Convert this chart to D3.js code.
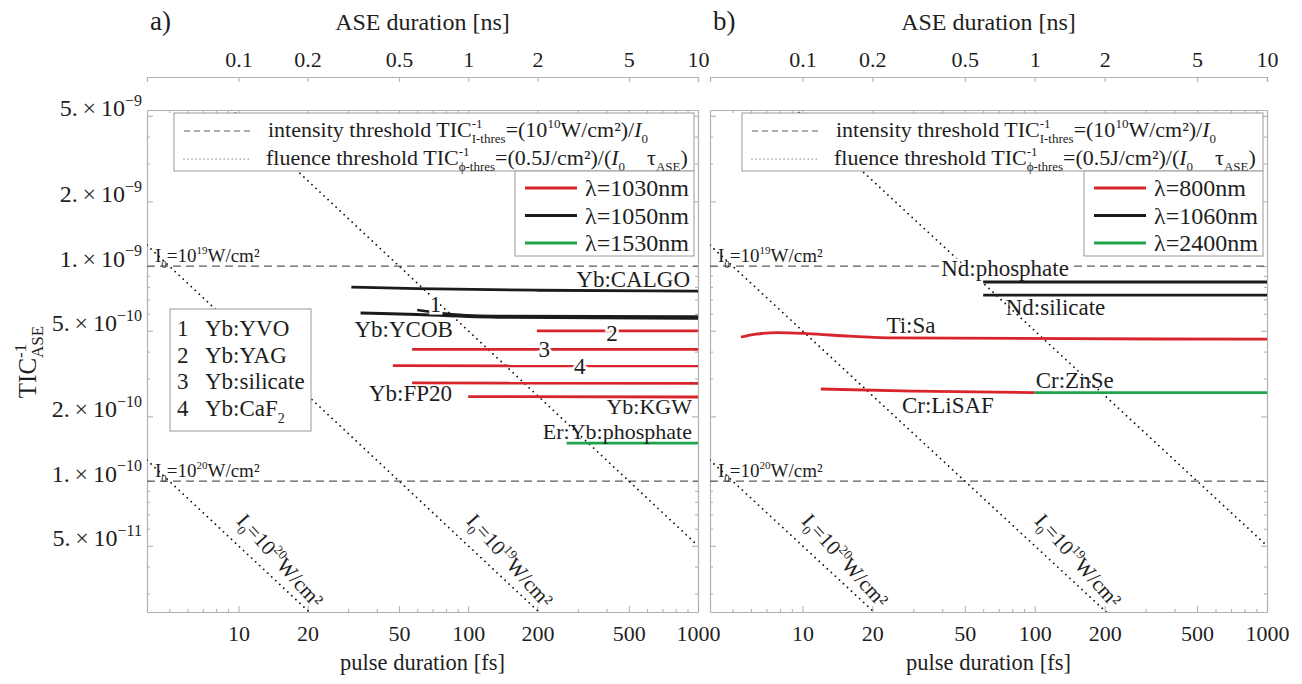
<!DOCTYPE html>
<html>
<head>
<meta charset="utf-8">
<script src="https://cdn.jsdelivr.net/npm/d3@7"></script>
<style>
  body { margin: 0; background: #fff; }
  svg { display: block; }
</style>
</head>
<body>
<svg id="chart" width="1302" height="684"></svg>
<script>
// ---------------- data ----------------
const pulseTicks = [10, 20, 50, 100, 200, 500, 1000];
const aseTicks = [0.1, 0.2, 0.5, 1, 2, 5, 10];
const ticTicks = [5e-9, 2e-9, 1e-9, 5e-10, 2e-10, 1e-10, 5e-11];
const pulseDomain = [4, 1000];       // fs
const aseDomain = [0.04, 10];        // ns
const ticDomain = [2.46e-11, 5.32e-9];

// threshold lines, [pulse fs, TIC]
const intensity19 = [[4, 1e-9], [1000, 1e-9]];
const intensity20 = [[4, 1e-10], [1000, 1e-10]];
const fluence18 = [[4, 1.25e-8], [1000, 5e-11]];
const fluence19 = [[4, 1.25e-9], [1000, 5e-12]];
const fluence20 = [[4, 1.25e-10], [1000, 5e-13]];

// panel a)
const ybCALGO = [[31, 7.98e-10], [60, 7.85e-10], [200, 7.72e-10], [1000, 7.65e-10]];
const ybYCOB = [[34, 6.05e-10], [60, 5.95e-10], [150, 5.78e-10], [1000, 5.72e-10]];
const ybYVO = [[60, 6.25e-10], [75, 6.05e-10], [130, 5.86e-10], [1000, 5.82e-10]];
const ybYAG = [[199, 5.0e-10], [1000, 5.0e-10]];
const ybSilicate = [[57, 4.1e-10], [1000, 4.1e-10]];
const ybCaF2 = [[47, 3.44e-10], [1000, 3.43e-10]];
const ybKGW = [[57, 2.86e-10], [1000, 2.85e-10]];
const ybFP20 = [[100, 2.47e-10], [1000, 2.46e-10]];
const erYbPhosphate = [[268, 1.5e-10], [1000, 1.5e-10]];

// panel b)
const ndPhosphate = [[60, 8.43e-10], [1000, 8.43e-10]];
const ndSilicate = [[60, 7.33e-10], [1000, 7.33e-10]];
const tiSa = [[5.44, 4.67e-10], [6.3, 4.82e-10], [7.8, 4.9e-10], [10.5, 4.85e-10], [16, 4.72e-10], [25, 4.63e-10], [1000, 4.57e-10]];
const crLiSAF = [[12, 2.68e-10], [30, 2.62e-10], [100, 2.58e-10]];
const crZnSe = [[100, 2.58e-10], [1000, 2.58e-10]];

// curve labels: text, pulse, TIC, anchor, size
const labelsA = [
  ["Yb:CALGO", 923, 7.98e-10, "end", 23],
  ["Yb:YCOB", 32, 4.67e-10, "start", 23],
  ["Yb:FP20", 85, 2.36e-10, "end", 23],
  ["Yb:KGW", 941, 2.05e-10, "end", 22],
  ["Er:Yb:phosphate", 941, 1.57e-10, "end", 22]
];
const numbersA = [["1", 72, 6.11e-10], ["2", 422, 4.48e-10], ["3", 214, 3.77e-10], ["4", 306, 3.15e-10]];
const labelsB = [
  ["Nd:silicate", 75, 5.92e-10, "start", 23],
  ["Ti:Sa", 23, 4.88e-10, "start", 23],
  ["Cr:ZnSe", 101, 2.71e-10, "start", 23],
  ["Cr:LiSAF", 26.8, 2.07e-10, "start", 23]
];
const haloB = [["Nd:phosphate", 74.5, 8.95e-10]];
const materialKey = ["Yb:YVO", "Yb:YAG", "Yb:silicate", "Yb:CaF"];
const lambdasA = ["λ=1030nm", "λ=1050nm", "λ=1530nm"];
const lambdasB = ["λ=800nm", "λ=1060nm", "λ=2400nm"];

// ---------------- drawing ----------------
const FONT = "'Liberation Serif', 'Times New Roman', serif";
const INK = "#1e1e1e";
const FRAME = "#b2b2b2";
const RED = "#d7252b", BLACK = "#1b1b1b", GREEN = "#1ea54b";
const colours = [RED, BLACK, GREEN];

const svg = d3.select("#chart").attr("font-family", FONT).attr("fill", INK);
const yTop = 110, yBot = 612;
const y = d3.scaleLog().domain(ticDomain).range([yBot, yTop]);

// rich text with sup / sub / stacked sub under a sup
function rich(sel, parts, size, ratio) {
  const r = ratio || 0.6;
  let cur = 0, lastW = 0;
  parts.forEach(([str, kind]) => {
    const small = kind === "sup" || kind === "sub" || kind === "stack";
    const shift = kind === "sup" ? -0.42 * size : (small ? 0.28 * size : 0);
    const ts = sel.append("tspan").text(str).attr("dy", shift - cur);
    if (small) ts.attr("font-size", Math.round(size * r));
    if (kind === "it") ts.attr("font-style", "italic");
    if (kind === "stack") ts.attr("dx", -lastW);
    cur = shift;
    lastW = ts.node().getComputedTextLength();
  });
}

function minorValues(lo, hi, majors) {
  const out = [];
  for (let e = Math.floor(Math.log10(lo)); e <= Math.ceil(Math.log10(hi)); e++) {
    for (let m = 1; m < 10; m++) {
      const v = m * Math.pow(10, e);
      if (v > lo * 1.001 && v < hi * 0.999 && !majors.some(t => Math.abs(t - v) / v < 1e-6)) out.push(v);
    }
  }
  return out;
}

function styleAxis(sel, showDomain) {
  sel.attr("font-family", FONT).attr("font-size", 22);
  sel.select(".domain").attr("stroke", showDomain ? FRAME : "none").attr("stroke-width", 1.2);
  sel.selectAll(".tick line").attr("stroke", FRAME).attr("stroke-width", 1.1);
  sel.selectAll(".tick text").attr("fill", INK);
}

function drawPanel(cfg) {
  const x = d3.scaleLog().domain(pulseDomain).range([cfg.x0, cfg.x1]);
  const xAse = d3.scaleLog().domain(aseDomain).range([cfg.x0, cfg.x1]);
  const g = svg.append("g");
  const clipId = "clip-" + cfg.id;
  g.append("clipPath").attr("id", clipId).append("rect")
    .attr("x", cfg.x0).attr("y", yTop).attr("width", cfg.x1 - cfg.x0).attr("height", yBot - yTop);

  const minorX = minorValues(pulseDomain[0], pulseDomain[1], pulseTicks);
  const minorY = minorValues(ticDomain[0], ticDomain[1], ticTicks);

  // bottom
  g.append("g").attr("transform", `translate(0,${yBot})`)
    .call(d3.axisBottom(x).tickValues(pulseTicks).tickFormat(d3.format("d")).tickSizeInner(-6).tickSizeOuter(0).tickPadding(13))
    .call(s => styleAxis(s, true));
  g.append("g").attr("transform", `translate(0,${yBot})`)
    .call(d3.axisBottom(x).tickValues(minorX).tickFormat("").tickSize(-3))
    .call(s => styleAxis(s, false));
  // top edge of frame
  g.append("g").attr("transform", `translate(0,${yTop})`)
    .call(d3.axisTop(x).tickValues(pulseTicks).tickFormat("").tickSizeInner(-6).tickSizeOuter(0))
    .call(s => styleAxis(s, true));
  g.append("g").attr("transform", `translate(0,${yTop})`)
    .call(d3.axisTop(x).tickValues(minorX).tickFormat("").tickSize(-3))
    .call(s => styleAxis(s, false));
  // left / right
  const left = g.append("g").attr("transform", `translate(${cfg.x0},0)`)
    .call(d3.axisLeft(y).tickValues(ticTicks).tickFormat("").tickSizeInner(-6).tickSizeOuter(0).tickPadding(5))
    .call(s => styleAxis(s, true));
  g.append("g").attr("transform", `translate(${cfg.x0},0)`)
    .call(d3.axisLeft(y).tickValues(minorY).tickFormat("").tickSize(-3))
    .call(s => styleAxis(s, false));
  g.append("g").attr("transform", `translate(${cfg.x1},0)`)
    .call(d3.axisRight(y).tickValues(ticTicks).tickFormat("").tickSizeInner(-6).tickSizeOuter(0))
    .call(s => styleAxis(s, true));
  g.append("g").attr("transform", `translate(${cfg.x1},0)`)
    .call(d3.axisRight(y).tickValues(minorY).tickFormat("").tickSize(-3))
    .call(s => styleAxis(s, false));

  if (cfg.yLabels) {
    left.selectAll(".tick text").each(function (d) {
      const t = d3.select(this).text(null).attr("x", -5).attr("dy", "0.31em").attr("font-size", 24);
      const e = Math.floor(Math.log10(d) + 1e-9);
      const m = Math.round(d / Math.pow(10, e));
      rich(t, [[m + ".\u2009×\u200910", "n"], ["−" + (-e), "sup"]], 24, 0.68);
    });
  }

  // separate ASE duration axis on top
  g.append("g").attr("transform", "translate(0,77)")
    .call(d3.axisTop(xAse).tickValues(aseTicks).tickFormat(d => String(d)).tickSizeInner(-5).tickSizeOuter(-5).tickPadding(10))
    .call(s => styleAxis(s, true));

  const cx = (cfg.x0 + cfg.x1) / 2;
  g.append("text").attr("x", cx).attr("y", 30).attr("text-anchor", "middle").attr("font-size", 24).text("ASE duration [ns]");
  g.append("text").attr("x", cx).attr("y", 670).attr("text-anchor", "middle").attr("font-size", 22.5).text("pulse duration [fs]");
  g.append("text").attr("x", cfg.x0 + 3).attr("y", 30).attr("font-size", 27).text(cfg.letter);

  const line = d3.line().x(d => x(d[0])).y(d => y(d[1])).curve(d3.curveMonotoneX);
  const guides = g.append("g").attr("clip-path", `url(#${clipId})`);

  [intensity19, intensity20].forEach(d => guides.append("path").attr("d", line(d))
    .attr("fill", "none").attr("stroke", "#5c5c5c").attr("stroke-width", 1.3).attr("stroke-dasharray", "8 5"));
  [fluence18, fluence19, fluence20].forEach(d => guides.append("path").attr("d", d3.line().x(p => x(p[0])).y(p => y(p[1]))(d))
    .attr("fill", "none").attr("stroke", "#111").attr("stroke-width", 1.8)
    .attr("stroke-linecap", "round").attr("stroke-dasharray", "0.01 5.5"));

  // intensity labels
  [["19", 1.04e-9], ["20", 1.05e-10]].forEach(([p, v]) => {
    const t = g.append("text").attr("x", x(4.33)).attr("y", y(v)).attr("font-size", 19);
    rich(t, [["I", "n"], ["0", "sub"], ["=10", "n"], [p, "sup"], ["W/cm²", "n"]], 19);
  });
  // fluence labels along dotted lines
  cfg.rotLabels.forEach(([p, pulse, v]) => {
    const t = g.append("text").attr("text-anchor", "middle").attr("font-size", 21)
      .attr("transform", `translate(${x(pulse)},${y(v)}) rotate(48)`);
    rich(t, [["I", "n"], ["0", "sub"], ["=10", "n"], [p, "sup"], ["W/cm²", "n"]], 21);
  });

  // labels that break the dashed line, drawn under the curves
  cfg.halo.forEach(([s, p, v]) => g.append("text").attr("x", x(p)).attr("y", y(v))
    .attr("text-anchor", "middle").attr("font-size", 23)
    .attr("stroke", "#fff").attr("stroke-width", 5).attr("paint-order", "stroke").text(s));

  // curves
  const plot = g.append("g").attr("clip-path", `url(#${clipId})`);
  cfg.curves.forEach(([d, c, w]) => plot.append("path").attr("d", line(d))
    .attr("fill", "none").attr("stroke", c).attr("stroke-width", w || 2.8));

  cfg.labels.forEach(([s, p, v, a, fs]) => g.append("text").attr("x", x(p)).attr("y", y(v))
    .attr("text-anchor", a).attr("font-size", fs).text(s));

  // legend: threshold lines
  const lx = cfg.legLeft, rx = cfg.x1 - 4;
  g.append("rect").attr("x", lx).attr("y", 113).attr("width", rx - lx).attr("height", 58)
    .attr("fill", "#fff").attr("stroke", "#9a9a9a").attr("stroke-width", 1);
  g.append("line").attr("x1", lx + 10).attr("x2", lx + 77).attr("y1", 131).attr("y2", 131)
    .attr("stroke", "#5c5c5c").attr("stroke-width", 1.2).attr("stroke-dasharray", "6 4");
  g.append("line").attr("x1", lx + 10).attr("x2", lx + 77).attr("y1", 159).attr("y2", 159)
    .attr("stroke", "#333").attr("stroke-width", 1.2).attr("stroke-linecap", "round").attr("stroke-dasharray", "0.01 4");
  rich(g.append("text").attr("x", lx + 94).attr("y", 137).attr("font-size", 22),
    [["intensity threshold TIC", "n"], ["-1", "sup"], ["I-thres", "stack"], ["=(10", "n"], ["10", "sup"], ["W/cm²)/", "n"], ["I", "it"], ["0", "sub"]], 22);
  rich(g.append("text").attr("x", lx + 92).attr("y", 165).attr("font-size", 22),
    [["fluence threshold TIC", "n"], ["-1", "sup"], ["ϕ-thres", "stack"], ["=(0.5J/cm²)/(", "n"], ["I", "it"], ["0", "sub"], ["\u2003", "n"], ["τ", "n"], ["ASE", "sub"], [")", "n"]], 22);

  // legend: wavelengths
  const bx = cfg.x1 - 183;
  g.append("rect").attr("x", bx).attr("y", 171).attr("width", rx - bx).attr("height", 85)
    .attr("fill", "#fff").attr("stroke", "#9a9a9a").attr("stroke-width", 1);
  cfg.lambdas.forEach((s, i) => {
    g.append("line").attr("x1", bx + 10).attr("x2", bx + 62).attr("y1", 188 + i * 27.5).attr("y2", 188 + i * 27.5)
      .attr("stroke", colours[i]).attr("stroke-width", 3);
    g.append("text").attr("x", bx + 70).attr("y", 196 + i * 27.5).attr("font-size", 24).text(s);
  });

  if (cfg.numbers) {
    cfg.numbers.forEach(([s, p, v]) => g.append("text").attr("x", x(p)).attr("y", y(v))
      .attr("text-anchor", "middle").attr("font-size", 23)
      .attr("stroke", "#fff").attr("stroke-width", 5).attr("paint-order", "stroke").text(s));
    g.append("rect").attr("x", 170).attr("y", 309).attr("width", 141).attr("height", 122)
      .attr("fill", "#fff").attr("stroke", "#9a9a9a").attr("stroke-width", 1);
    materialKey.forEach((s, i) => {
      g.append("text").attr("x", 177).attr("y", 336 + i * 26.7).attr("font-size", 23).text(i + 1);
      const t = g.append("text").attr("x", 205).attr("y", 336 + i * 26.7).attr("font-size", 23);
      rich(t, i === 3 ? [[s, "n"], ["2", "sub"]] : [[s, "n"]], 23);
    });
  }
}

drawPanel({
  id: "a", letter: "a)", x0: 147, x1: 698, legLeft: 174, yLabels: true,
  curves: [[ybCALGO, BLACK], [ybYCOB, BLACK, 3], [ybYVO, BLACK, 2.6], [ybYAG, RED], [ybSilicate, RED], [ybCaF2, RED],
           [ybKGW, RED], [ybFP20, RED], [erYbPhosphate, GREEN]],
  labels: labelsA, halo: [], numbers: numbersA, lambdas: lambdasA,
  rotLabels: [["20", 14.4, 4.06e-11], ["19", 144, 4.06e-11]]
});
drawPanel({
  id: "b", letter: "b)", x0: 710, x1: 1267, legLeft: 742, yLabels: false,
  curves: [[ndPhosphate, BLACK], [ndSilicate, BLACK], [tiSa, RED], [crLiSAF, RED], [crZnSe, GREEN]],
  labels: labelsB, halo: haloB, numbers: null, lambdas: lambdasB,
  rotLabels: [["20", 14.5, 4.06e-11], ["19", 146, 4.06e-11]]
});

// y axis title
const yt = svg.append("text").attr("text-anchor", "middle").attr("font-size", 25)
  .attr("transform", "translate(36,362) rotate(-90)");
rich(yt, [["TIC", "n"], ["-1", "sup"], ["ASE", "stack"]], 25, 0.66);
</script>
</body>
</html>
